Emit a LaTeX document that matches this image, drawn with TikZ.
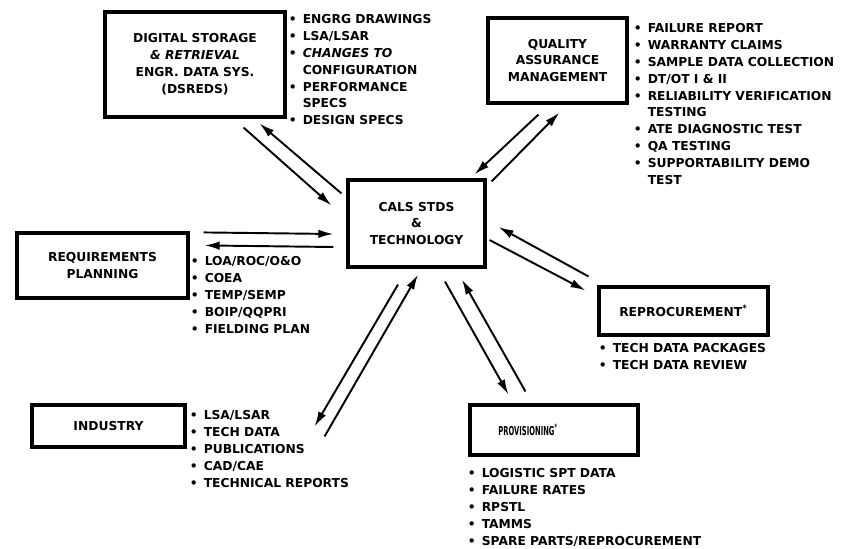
\documentclass[tikz,border=0pt]{standalone}
\usepackage{fontspec}
\setmainfont{DejaVu Sans}
\usepackage{graphicx}
\usetikzlibrary{arrows.meta}
\tikzstyle{unitbox} = [draw=black, line width=1.8pt, rectangle, align=center, inner sep=0pt]
\tikzstyle{itemlist} = [anchor=north west, inner sep=0pt]
\tikzstyle{flow} = [line width=1.1pt, -{Latex[length=3mm,width=1.7mm]}]
\newcommand{\itm}{\textbullet\hspace{3.5pt}}
\newcommand{\cnt}{\phantom{\textbullet}\hspace{3.5pt}}
\newcommand{\lst}[1]{\begin{tabular}{@{}l@{}}#1\end{tabular}}

\begin{document}
\begin{tikzpicture}[x=0.02cm, y=-0.02cm, font=\fontsize{7}{9.6}\selectfont\bfseries]
\useasboundingbox (0,0) rectangle (848,548);
% boxes
\node[unitbox, minimum width=3.6cm, minimum height=2.1cm] (dsreds) at (195,64.5)
  {DIGITAL STORAGE\\ {\itshape \& RETRIEVAL}\\ ENGR. DATA SYS.\\ (DSREDS)};
\node[unitbox, minimum width=2.78cm, minimum height=1.7cm] (qam) at (557.5,60.5)
  {QUALITY\\ ASSURANCE\\ MANAGEMENT};
\node[unitbox, minimum width=2.74cm, minimum height=1.74cm] (cals) at (416.5,223.5)
  {CALS STDS\\ \&\\ TECHNOLOGY};
\node[unitbox, minimum width=3.42cm, minimum height=1.3cm] (reqplan) at (102.5,265.5)
  {REQUIREMENTS\\ PLANNING};
\node[unitbox, minimum width=3.38cm, minimum height=0.96cm] (reproc) at (683.5,311)
  {REPROCUREMENT\textsuperscript{*}};
\node[unitbox, minimum width=3.06cm, minimum height=0.84cm] (industry) at (108.5,426)
  {INDUSTRY};
\node[unitbox, minimum width=3.36cm, minimum height=1.0cm] (provis) at (554,430)
  {\raisebox{-3pt}{\scalebox{0.55}[1]{PROVISIONING\textsuperscript{*}}}\hspace{1.04cm}};

% item lists
\node[itemlist] (dslist) at (288.4,11.5) {\lst{\itm ENGRG DRAWINGS\\ \itm LSA/LSAR\\
  \itm {\itshape CHANGES TO}\\ \cnt CONFIGURATION\\ \itm PERFORMANCE\\ \cnt SPECS\\ \itm DESIGN SPECS}};
\node[itemlist] (qalist) at (633.4,20.5) {\lst{\itm FAILURE REPORT\\ \itm WARRANTY CLAIMS\\
  \itm SAMPLE DATA COLLECTION\\ \itm DT/OT I \& II\\ \itm RELIABILITY VERIFICATION\\ \cnt TESTING\\
  \itm ATE DIAGNOSTIC TEST\\ \itm QA TESTING\\ \itm SUPPORTABILITY DEMO\\ \cnt TEST}};
\node[itemlist] (reqlist) at (190.4,253.5) {\lst{\itm LOA/ROC/O\&O\\ \itm COEA\\ \itm TEMP/SEMP\\
  \itm BOIP/QQPRI\\ \itm FIELDING PLAN}};
\node[itemlist] (replist) at (598.4,340.5) {\lst{\itm TECH DATA PACKAGES\\ \itm TECH DATA REVIEW}};
\node[itemlist] (indlist) at (189.4,407.5) {\lst{\itm LSA/LSAR\\ \itm TECH DATA\\ \itm PUBLICATIONS\\
  \itm CAD/CAE\\ \itm TECHNICAL REPORTS}};
\node[itemlist] (provlist) at (467.4,465.5) {\lst{\itm LOGISTIC SPT DATA\\ \itm FAILURE RATES\\
  \itm RPSTL\\ \itm TAMMS\\ \itm SPARE PARTS/REPROCUREMENT}};

% paired flows
\draw[flow] ([shift={(-43,9)}]dsreds.south east) -- ([shift={(-15,27)}]cals.north west);
\draw[flow] ([shift={(-5,15)}]cals.north west) -- ([shift={(-27,5)}]dsreds.south east);
\draw[flow] ([shift={(52,10)}]qam.south west) -- ([shift={(-12,-4)}]cals.north east);
\draw[flow] ([shift={(5,3)}]cals.north east) -- ([shift={(73,8)}]qam.south west);
\draw[flow] ([shift={(14,1)}]reqplan.north east) -- ([shift={(-13,10.5)}]cals.west);
\draw[flow] ([shift={(-13,23.5)}]cals.west) -- ([shift={(15,14)}]reqplan.north east);
\draw[flow] ([shift={(-9,-9)}]reproc.north west) -- ([shift={(12,3.5)}]cals.east);
\draw[flow] ([shift={(3,16.5)}]cals.east) -- ([shift={(-12,5)}]reproc.north west);
\draw[flow] ([shift={(28.5,13)}]cals.south) -- ([shift={(40,-9)}]provis.north west);
\draw[flow] ([shift={(57,-12)}]provis.north west) -- ([shift={(45.5,11)}]cals.south);
\draw[flow] ([shift={(-18.5,16)}]cals.south) -- ([shift={(128,23)}]industry.north east);
\draw[flow] ([shift={(138,33)}]industry.north east) -- ([shift={(1.5,6)}]cals.south);
\end{tikzpicture}
\end{document}
